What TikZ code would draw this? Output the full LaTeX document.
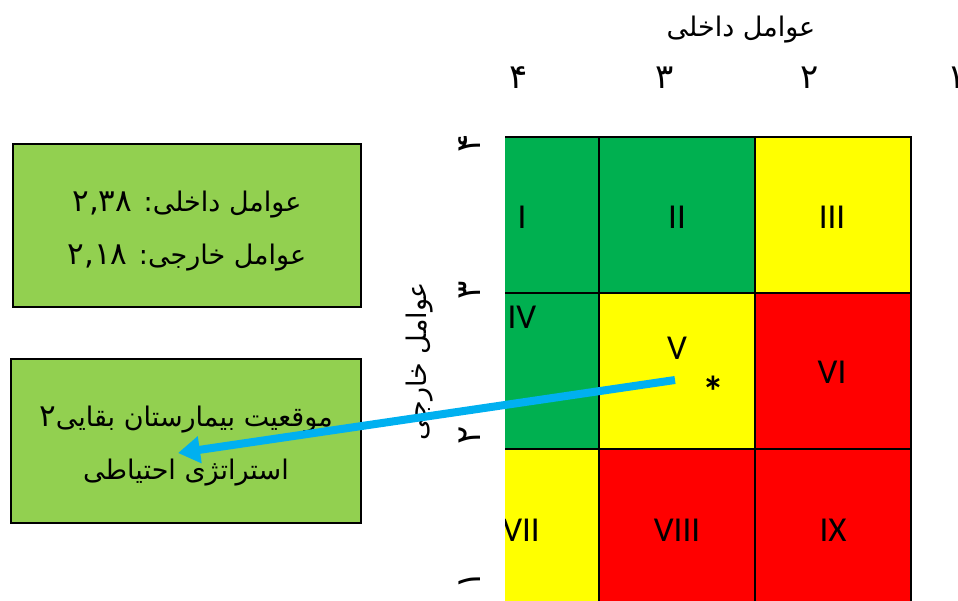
\documentclass[tikz,border=0pt]{standalone}
\usepackage{fontspec}
\setmainfont{Carlito}
\newfontfamily\fa[Script=Arabic]{DejaVu Sans}
\TeXXeTstate=1
\usetikzlibrary{arrows.meta}
\definecolor{cgreen}{HTML}{00B050}
\definecolor{cyellow}{HTML}{FFFF00}
\definecolor{cred}{HTML}{FF0000}
\definecolor{boxgreen}{HTML}{92D050}
\definecolor{arrowblue}{HTML}{00B0F0}
\newcommand{\bignum}[1]{{\fontsize{31}{31}\selectfont #1}}
\tikzset{
  cell/.style={draw=black, line width=2.2pt, minimum width=156pt, minimum height=156pt, inner sep=0pt},
  roman/.style={font=\fontsize{35}{35}\selectfont, inner sep=0pt},
  fatext/.style={font=\fa\fontsize{27}{27}\selectfont, inner sep=0pt},
  fanum/.style={font=\fa\fontsize{34}{34}\selectfont, inner sep=0pt},
  infobox/.style={draw=black, line width=2pt, fill=boxgreen, minimum width=348pt, minimum height=163pt, inner sep=0pt},
  boxtext/.style={inner sep=0pt, align=center, font=\fa\fontsize{27}{53}\selectfont},
  bluearrow/.style={draw=arrowblue, line width=8pt, -{Triangle[length=22pt,width=26pt]}}
}
\begin{document}
\begin{tikzpicture}[x=1pt,y=-1pt]
\useasboundingbox (0,0) rectangle (958,601);
\begin{scope}
  \clip (505,0) rectangle (958,601);
  \node[cell, fill=cgreen]  (c11) at (521,215) {};
  \node[cell, fill=cgreen]  (c12) at (677,215) {};
  \node[cell, fill=cyellow] (c13) at (833,215) {};
  \node[cell, fill=cgreen]  (c21) at (521,371) {};
  \node[cell, fill=cyellow] (c22) at (677,371) {};
  \node[cell, fill=cred]    (c23) at (833,371) {};
  \node[cell, fill=cyellow] (c31) at (521,527) {};
  \node[cell, fill=cred]    (c32) at (677,527) {};
  \node[cell, fill=cred]    (c33) at (833,527) {};
  \node[roman] (l1) at (522,217) {I};
  \node[roman] (l2) at (677,217) {II};
  \node[roman] (l3) at (832,217) {III};
  \node[roman] (l4) at (522,317) {IV};
  \node[roman] (l5) at (677,348) {V};
  \node[roman] (l6) at (832,372) {VI};
  \node[roman] (l7) at (521,530) {VII};
  \node[roman] (l8) at (677,530) {VIII};
  \node[roman] (l9) at (833,530) {IX};
  \node[roman, font=\bfseries\fontsize{44}{44}\selectfont] (star) at (713,392) {*};
\end{scope}
% axis titles
\node[fatext] (ttop) at (741,30) {\beginR عوامل داخلی\endR};
\node[fatext, rotate=90] (tside) at (420,361) {\beginR عوامل خارجی\endR};
% top numerals
\node[fanum] (n4) at (519,78) {۴};
\node[fanum] (n3) at (665,78) {۳};
\node[fanum] (n2) at (810,78) {۲};
\node[fanum] (n1) at (957,78) {۱};
% side numerals
\node[fanum, rotate=90] (s4) at (470,143) {۴};
\node[fanum, rotate=90] (s3) at (470,290) {۳};
\node[fanum, rotate=90] (s2) at (470,435) {۲};
\node[fanum, rotate=90] (s1) at (470,580) {۱};
% info boxes
\node[infobox] (b1) at (187,226) {};
\node[boxtext] (b1t) at ([yshift=-5pt]b1.center) {\beginR عوامل داخلی: \beginL\bignum{۲,۳۸}\endL\endR\\\beginR عوامل خارجی: \beginL\bignum{۲,۱۸}\endL\endR};
\node[infobox, minimum width=350pt] (b2) at (186,441) {};
\node[boxtext] (b2t) at ([yshift=-5pt]b2.center) {\beginR موقعیت بیمارستان بقایی\bignum{۲}\endR\\\beginR استراتژی احتیاطی\endR};
% arrow
\coordinate (astart) at (675,380);
\coordinate (aend) at (178,453);
\draw[bluearrow] (astart) -- (aend);
\end{tikzpicture}
\end{document}
